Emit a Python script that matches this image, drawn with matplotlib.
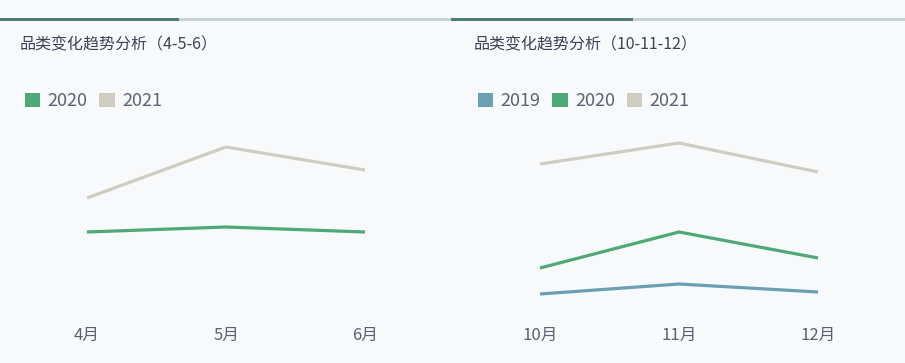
import matplotlib
matplotlib.use("Agg")
import matplotlib.pyplot as plt
from matplotlib.patches import Rectangle, Patch

plt.rcParams['font.family'] = ['Noto Sans CJK SC', 'DejaVu Sans']

# ---- data ----
months_left = ["4月", "5月", "6月"]
left_2020 = [78, 83, 78]
left_2021 = [112, 163, 140]

months_right = ["10月", "11月", "12月"]
right_2019 = [16, 26, 18]
right_2020 = [42, 78, 52]
right_2021 = [146, 167, 138]

title_left = "品类变化趋势分析（4-5-6）"
title_right = "品类变化趋势分析（10-11-12）"

colors = {"2019": "#6b9fb3", "2020": "#4ea877", "2021": "#d0ccc0"}

W, H = 905, 363
fig = plt.figure(figsize=(W / 100, H / 100), dpi=100)
fig.patch.set_facecolor("#f7f9fb")

def px_axes(x0, y0, x1, y1):
    return fig.add_axes([x0 / W, 1 - y1 / H, (x1 - x0) / W, (y1 - y0) / H])

# top bars
def bar(x0, x1, color):
    fig.add_artist(Rectangle((x0 / W, 1 - 20.5 / H), (x1 - x0) / W, 3 / H,
                             transform=fig.transFigure, color=color, lw=0))
bar(0, 179, "#4f7d74")
bar(179, 451, "#c2d5d0")
bar(451, 633, "#4f7d74")
bar(633, 905, "#c2d5d0")

def panel(x0, months, series, title, tx, leg_x):
    ax = px_axes(x0, 110, x0 + 417, 310)
    ax.set_facecolor("none")
    x = list(range(len(months)))
    for name, vals in series:
        ax.plot(x, vals, color=colors[name], lw=2.3, solid_capstyle="butt")
    ax.set_xlim(-0.5, len(months) - 0.5)
    ax.set_ylim(0, 200)
    ax.set_xticks(x)
    ax.set_xticklabels(months, fontsize=12, color="#5a606e")
    ax.tick_params(axis="x", length=0, pad=12)
    ax.set_yticks([])
    for s in ax.spines.values():
        s.set_visible(False)
    fig.text(tx / W, 1 - 45 / H, title, fontsize=11.5, color="#3d4352",
             va="center", ha="left")
    handles = [Patch(facecolor=colors[n], edgecolor="none", label=n) for n, _ in series]
    handles = sorted(handles, key=lambda h: h.get_label())
    leg = fig.legend(handles=handles, loc="center left",
                     bbox_to_anchor=(leg_x / W, 1 - 101 / H),
                     ncol=len(handles), frameon=False, fontsize=13,
                     handlelength=0.85, handleheight=0.85, handletextpad=0.4,
                     columnspacing=0.65, borderpad=0, borderaxespad=0)
    for t in leg.get_texts():
        t.set_color("#5c6270")
    return ax

panel(17.5, months_left, [("2021", left_2021), ("2020", left_2020)],
      title_left, 20, 25)
panel(470.5, months_right, [("2021", right_2021), ("2020", right_2020), ("2019", right_2019)],
      title_right, 474, 478)

fig.savefig("out.png", dpi=100, facecolor=fig.get_facecolor())
